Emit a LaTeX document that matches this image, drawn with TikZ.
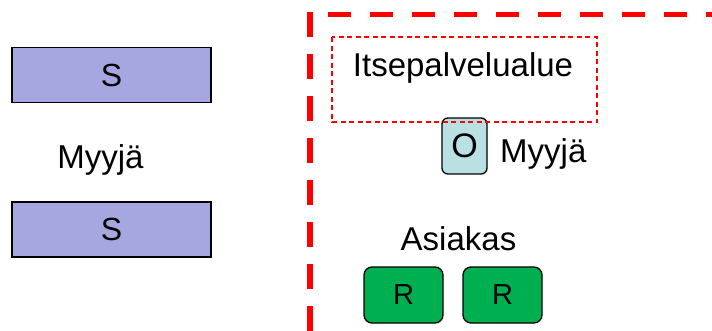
\documentclass[tikz,border=0pt]{standalone}
\usepackage{fontspec}
\setmainfont{Liberation Sans}
\definecolor{lav}{RGB}{166,166,224}
\definecolor{ocyan}{RGB}{185,224,227}
\definecolor{rgreen}{RGB}{0,176,80}
\definecolor{pred}{RGB}{255,0,0}
\begin{document}
\begin{tikzpicture}[x=1pt,y=-1pt,
  txt/.style={font=\fontsize{33}{38}\selectfont, inner sep=0pt},
  sbox/.style={draw=black, line width=1.5pt, fill=lav, minimum width=199pt, minimum height=55pt, inner sep=0pt, font=\fontsize{32}{38}\selectfont},
  obox/.style={draw=black, line width=1.3pt, fill=ocyan, rounded corners=6pt, minimum width=45pt, minimum height=56pt, inner sep=0pt, font=\fontsize{34}{40}\selectfont},
  rbox/.style={draw=black, line width=1.3pt, fill=rgreen, rounded corners=8pt, minimum width=79pt, minimum height=56pt, inner sep=0pt, font=\fontsize{29}{34}\selectfont},
  bigdash/.style={draw=pred, line width=5.5pt},
  smalldash/.style={draw=pred, line width=1.4pt, dash pattern=on 5pt off 3.5pt}]
\useasboundingbox (0,0) rectangle (712,330);
\node[sbox] (s1) at (111.5,75) {S};
\node[sbox] (s2) at (111.5,229.5) {S};
\node[txt, anchor=base] (m1) at (100.5,168) {Myyjä};
\node[obox] (o) at (464.5,146) {O};
\node[txt, anchor=base west] (m2) at (500,162) {Myyjä};
\coordinate (a1) at (332,37);
\coordinate (a2) at (597,122);
\draw[smalldash] (a1) rectangle (a2);
\node[txt, anchor=base] (its) at (463,76) {Itsepalvelualue};
\node[txt, anchor=base] (asi) at (458.5,250) {Asiakas};
\node[rbox] (r1) at (403.5,295) {R};
\node[rbox] (r2) at (502.5,295) {R};
\coordinate (v1) at (310,12);
\coordinate (v2) at (310,332);
\coordinate (h1) at (328,14.5);
\coordinate (h2) at (714,14.5);
\draw[bigdash, dash pattern=on 25pt off 17pt] (v1) -- (v2);
\draw[bigdash, dash pattern=on 23pt off 19pt] (h1) -- (h2);
\end{tikzpicture}
\end{document}
